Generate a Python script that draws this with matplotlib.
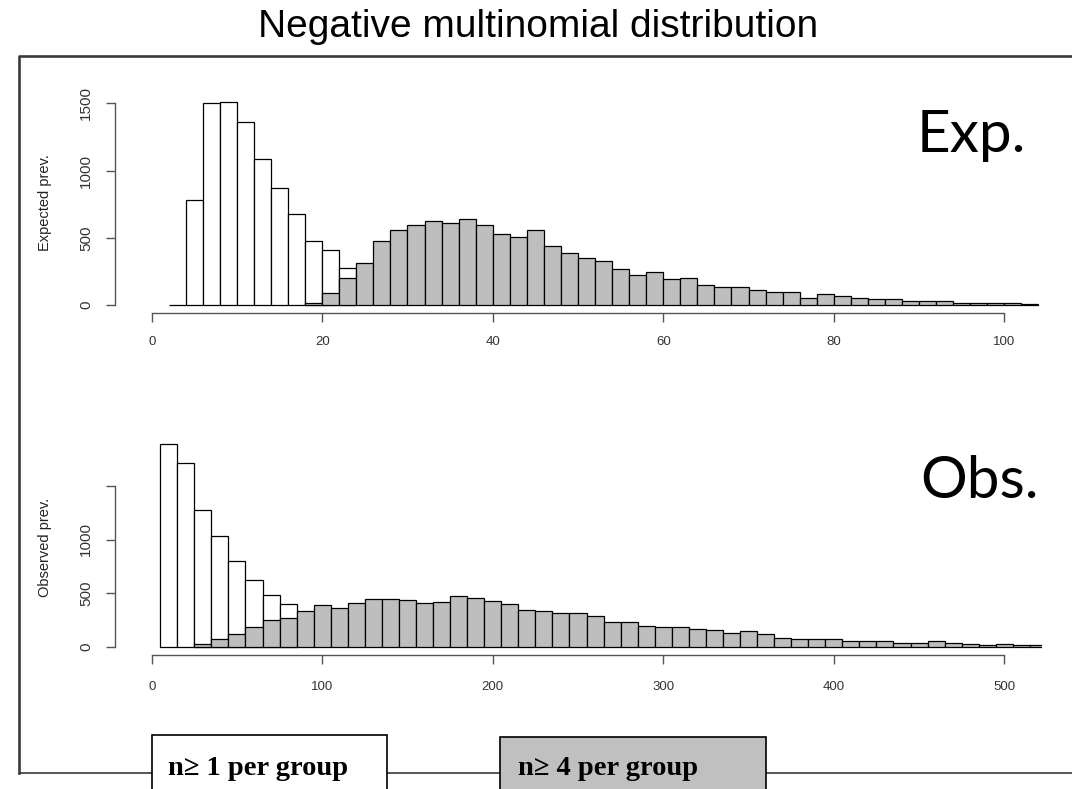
import numpy as np
import matplotlib
matplotlib.use("Agg")
import matplotlib.pyplot as plt
from matplotlib.patches import Rectangle
from matplotlib.lines import Line2D

# Expected prevalence, bin width 2
exp_white_start = 2
exp_white = [0, 781, 1505, 1510, 1364, 1089, 870, 675, 476, 409, 273]
exp_gray_start = 18
exp_gray = [12, 87, 198, 310, 476, 556, 595, 625, 608, 637,
            595, 528, 503, 556, 439, 384, 347, 330, 268, 223,
            248, 191, 198, 149, 136, 136, 112, 94, 94, 55,
            79, 67, 50, 42, 42, 32, 30, 30, 17, 12,
            12, 12, 7]
exp_width = 2
exp_xticks = [0, 20, 40, 60, 80, 100]
exp_yticks = [0, 500, 1000, 1500]
exp_ylabels = ["0", "500", "1000", "1500"]

# Observed prevalence, bin width 10
obs_white_start = 5
obs_white = [1891, 1717, 1277, 1029, 797, 620, 480, 394]
obs_gray_start = 25
obs_gray = [22, 68, 121, 186, 248, 270, 332, 388, 363, 403,
            446, 446, 434, 403, 415, 471, 450, 425, 400, 347,
            332, 316, 316, 285, 233, 233, 192, 186, 183, 167,
            152, 130, 146, 115, 84, 68, 68, 68, 53, 50,
            50, 34, 31, 50, 37, 22, 19, 22, 15, 12]
obs_width = 10
obs_xticks = [0, 100, 200, 300, 400, 500]
obs_yticks = [0, 500, 1000, 1500]
obs_ylabels = ["0", "500", "1000", ""]

W, H = 1072, 789
fig = plt.figure(figsize=(W / 100, H / 100), dpi=100)


def px_axes(left, top, right, bottom, **kw):
    return fig.add_axes([left / W, 1 - bottom / H, (right - left) / W, (bottom - top) / H], **kw)


# background frame and legend boxes, in pixel coords
bg = px_axes(0, 0, W, H)
bg.set_xlim(0, W)
bg.set_ylim(H, 0)
bg.axis("off")
frame_col = "#3a3a3a"
bg.add_line(Line2D([19, 19, W], [772.5, 56, 56], color=frame_col, lw=1.9))
bg.add_line(Line2D([19, W], [772.5, 772.5], color=frame_col, lw=1.2))
bg.add_patch(Rectangle((151.7, 735), 235, 60, facecolor="white", edgecolor="black", lw=1.2, zorder=3))
bg.add_patch(Rectangle((500, 737.3), 265.7, 60, facecolor="#c0c0c0", edgecolor="black", lw=1.2, zorder=3))
serif = ["Liberation Serif", "DejaVu Serif"]
bg.text(168, 775, "n\u2265 1 per group", family=serif, weight="bold", fontsize=20.5,
        ha="left", va="baseline", zorder=4)
bg.text(518, 775, "n\u2265 4 per group", family=serif, weight="bold", fontsize=20.5,
        ha="left", va="baseline", zorder=4)

bg.text(538, 37.3, "Negative multinomial distribution", family="Liberation Sans",
        fontsize=28, ha="center", va="baseline")
bg.text(917, 152, "Exp.", family="Lato", fontsize=42, ha="left", va="baseline")
bg.text(920, 498, "Obs.", family="Lato", fontsize=42, ha="left", va="baseline")
bg.text(45, 203, "Expected prev.", family="Liberation Sans", fontsize=10.5,
        rotation=90, ha="center", va="center", color="#222222")
bg.text(45, 547, "Observed prev.", family="Liberation Sans", fontsize=10.5,
        rotation=90, ha="center", va="center", color="#222222")


def r_style(ax, xticks, yticks, ylabels, xpad):
    for s in ["top", "right"]:
        ax.spines[s].set_visible(False)
    ax.patch.set_alpha(0)
    ax.spines["left"].set_bounds(yticks[0], yticks[-1])
    ax.spines["bottom"].set_bounds(xticks[0], xticks[-1])
    for s in ["left", "bottom"]:
        ax.spines[s].set_color("#555555")
        ax.spines[s].set_linewidth(1.0)
    ax.set_xticks(xticks)
    ax.set_xticklabels([str(t) for t in xticks], family="Liberation Sans", fontsize=9.5, color="#333333")
    ax.set_yticks(yticks)
    ax.set_yticklabels(ylabels, family="Liberation Sans", fontsize=11, color="#333333",
                       rotation=90, va="center")
    ax.tick_params(axis="both", direction="out", length=6.8, width=1.0, color="#555555")
    ax.tick_params(axis="x", pad=xpad)
    ax.tick_params(axis="y", pad=9)


def draw_hist(ax, start, vals, width, color):
    edges = start + width * np.arange(len(vals))
    ax.bar(edges, vals, width=width, align="edge", color=color, edgecolor="black", linewidth=0.9)


# top panel: expected
ax1 = px_axes(115, 80, 1042, 313)
draw_hist(ax1, exp_white_start, exp_white, exp_width, "white")
draw_hist(ax1, exp_gray_start, exp_gray, exp_width, "#bebebe")
ax1.set_xlim((115 - 151.7) / 8.526, (1042 - 151.7) / 8.526)
ax1.set_ylim((305 - 313) / 0.13447, (305 - 80) / 0.13447)
r_style(ax1, exp_xticks, exp_yticks, exp_ylabels, 9.5)

# bottom panel: observed
ax2 = px_axes(115, 425, 1042, 655)
draw_hist(ax2, obs_white_start, obs_white, obs_width, "white")
draw_hist(ax2, obs_gray_start, obs_gray, obs_width, "#bebebe")
ax2.set_xlim((115 - 151.7) / 1.7052, (1042 - 151.7) / 1.7052)
ax2.set_ylim((646.7 - 655) / 0.1072, (646.7 - 425) / 0.1072)
r_style(ax2, obs_xticks, obs_yticks, obs_ylabels, 12)

fig.savefig("out.png", dpi=100)
